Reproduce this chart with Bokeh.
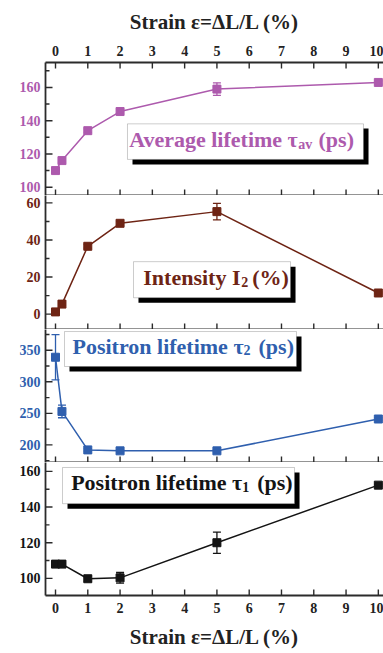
import math

from bokeh.models import (Plot, LinearAxis, Range1d, SingleIntervalTicker, FixedTicker,
                          Whisker, TeeHead, ColumnDataSource, BoxAnnotation, Label,
                          Line, Scatter, Segment)
from bokeh.layouts import column
from bokeh.embed import file_html
from bokeh.resources import INLINE

# ---- data -------------------------------------------------------------
strain = [0, 0.2, 1, 2, 5, 10]              # strain (%)
x_ticks = list(range(11))

tau_av = [110, 116, 134, 145.5, 159, 163]   # average lifetime (ps)
tau_av_err = [1, 1, 1, 1, 3.8, 1]

intensity_2 = [1.2, 5.4, 36.6, 49, 55.3, 11.4]  # intensity I2 (%)
intensity_2_err = [0.5, 0.5, 1, 1, 4.5, 0.5]

tau_2 = [339, 253, 192, 190.5, 190.5, 241]  # positron lifetime tau2 (ps)
tau_2_err = [36, 10, 2, 2, 2, 2]

tau_1 = [108, 108, 99.8, 100.3, 120, 152.3]  # positron lifetime tau1 (ps)
tau_1_err = [0.5, 0.5, 1.5, 3, 6, 0.5]

# ---- style ------------------------------------------------------------
FONT = "Liberation Serif"
AXIS_COLOR = "#2b2b2b"
PURPLE = "#ad5aad"
BROWN = "#6e2414"
BLUE = "#2f5fae"
BLACK = "#141414"
X_RANGE = (-0.31, 10.16)
FRAME_W = 338
AXIS_TITLE = "Strain \u03b5=\u0394L/L (%)"


def style_x_axis(axis, show_labels):
    axis.ticker = FixedTicker(ticks=x_ticks, minor_ticks=[])
    axis.axis_line_color = AXIS_COLOR
    axis.axis_line_width = 1.8
    axis.major_tick_in = 0
    axis.major_tick_out = 0
    axis.minor_tick_in = 0
    axis.minor_tick_out = 0
    axis.major_label_text_font = FONT
    axis.major_label_text_font_style = "bold"
    if show_labels:
        axis.major_label_text_color = "#222222"
        axis.major_label_text_font_size = "14px"
        axis.major_label_standoff = 7
        axis.axis_label = AXIS_TITLE
        axis.axis_label_text_font = FONT
        axis.axis_label_text_font_style = "bold"
        axis.axis_label_text_font_size = "21px"
        axis.axis_label_text_color = "#222222"
        axis.axis_label_standoff = 9
    else:
        # boundary between stacked panels: no numbers
        axis.major_label_text_color = None
        axis.major_label_text_font_size = "1px"
        axis.major_label_standoff = 0


def make_panel(height, y_range, interval, color, border_top=0, border_bottom=0):
    p = Plot(width=383, height=height,
             x_range=Range1d(*X_RANGE), y_range=Range1d(*y_range),
             output_backend="svg", toolbar_location=None,
             min_border_left=45, min_border_right=0,
             min_border_top=border_top, min_border_bottom=border_bottom,
             outline_line_color=None, background_fill_color="white",
             border_fill_color="white")
    yaxis = LinearAxis(ticker=SingleIntervalTicker(interval=interval, num_minor_ticks=2))
    yaxis.axis_line_color = AXIS_COLOR
    yaxis.axis_line_width = 1.8
    yaxis.major_tick_in = 0
    yaxis.major_tick_out = 0
    yaxis.minor_tick_in = 0
    yaxis.minor_tick_out = 0
    yaxis.major_label_text_font = FONT
    yaxis.major_label_text_font_style = "bold"
    yaxis.major_label_text_font_size = "14px"
    yaxis.major_label_text_color = color
    yaxis.major_label_standoff = 5
    p.add_layout(yaxis, "left")
    return p


def add_inner_ticks(p, y_range, interval, frame_h, top=False):
    """Short inward tick marks along the left edge and the bottom (and top) edge."""
    y0, y1 = y_range
    x_per_px = (X_RANGE[1] - X_RANGE[0]) / FRAME_W
    y_per_px = (y1 - y0) / frame_h
    seg = dict(x0=[], y0=[], x1=[], y1=[])
    for t in x_ticks:
        seg["x0"].append(t)
        seg["x1"].append(t)
        seg["y0"].append(y0)
        seg["y1"].append(y0 + 6 * y_per_px)
        if top:
            seg["x0"].append(t)
            seg["x1"].append(t)
            seg["y0"].append(y1)
            seg["y1"].append(y1 - 6 * y_per_px)
    half = interval / 2.0
    k = math.ceil(y0 / half)
    while k * half <= y1:
        v = k * half
        length = 7 if k % 2 == 0 else 4
        seg["x0"].append(X_RANGE[0])
        seg["x1"].append(X_RANGE[0] + length * x_per_px)
        seg["y0"].append(v)
        seg["y1"].append(v)
        k += 1
    p.add_glyph(ColumnDataSource(seg),
                Segment(x0="x0", y0="y0", x1="x1", y1="y1",
                        line_color=AXIS_COLOR, line_width=1.4))


def draw_series(p, values, errors, color):
    src = ColumnDataSource(dict(
        x=strain, y=values,
        upper=[v + e for v, e in zip(values, errors)],
        lower=[v - e for v, e in zip(values, errors)],
    ))
    p.add_glyph(src, Line(x="x", y="y", line_color=color, line_width=1.5))
    p.add_layout(Whisker(source=src, base="x", upper="upper", lower="lower",
                         line_color=color, line_width=1.3,
                         upper_head=TeeHead(size=8, line_color=color, line_width=1.3),
                         lower_head=TeeHead(size=8, line_color=color, line_width=1.3)))
    p.add_glyph(src, Scatter(x="x", y="y", marker="square", size=8,
                             fill_color=color, line_color=color))


def draw_caption(p, box, shadow, main, main_end, sub, sub_x, tail, tail_x,
                 base_y, sub_y, color):
    l, r, b, t = shadow
    p.add_layout(BoxAnnotation(left=l, right=r, bottom=b, top=t,
                               fill_color="black", fill_alpha=1, line_color=None))
    l, r, b, t = box
    p.add_layout(BoxAnnotation(left=l, right=r, bottom=b, top=t,
                               fill_color="white", fill_alpha=1,
                               line_color="#555555", line_width=1))
    common = dict(text_font=FONT, text_font_style="bold", text_color=color,
                  text_baseline="alphabetic")
    p.add_layout(Label(x=main_end, y=base_y, text=main, text_align="right",
                       text_font_size="22px", **common))
    p.add_layout(Label(x=sub_x, y=sub_y, text=sub, text_align="left",
                       text_font_size="14px", **common))
    p.add_layout(Label(x=tail_x, y=base_y, text=tail, text_align="left",
                       text_font_size="22px", **common))


# ---- panel 1: average lifetime -----------------------------------------
Y1 = (95, 175)
p1 = make_panel(195, Y1, 20, PURPLE, border_top=62)
top_axis = LinearAxis()
style_x_axis(top_axis, True)
p1.add_layout(top_axis, "above")
bottom1 = LinearAxis()
style_x_axis(bottom1, False)
p1.add_layout(bottom1, "below")
add_inner_ticks(p1, Y1, 20, 133, top=True)
draw_series(p1, tau_av, tau_av_err, PURPLE)
draw_caption(p1, (2.23, 9.54, 116.7, 138.1), (2.385, 9.696, 113.6, 135.3),
             "Average lifetime \u03c4", 7.503, "av", 7.518, "(ps)", 8.147,
             128.5, 125.7, PURPLE)

# ---- panel 2: intensity I2 ---------------------------------------------
Y2 = (-8.3, 64)
p2 = make_panel(134, Y2, 20, BROWN)
bottom2 = LinearAxis()
style_x_axis(bottom2, False)
p2.add_layout(bottom2, "below")
add_inner_ticks(p2, Y2, 20, 134)
draw_series(p2, intensity_2, intensity_2_err, BROWN)
draw_caption(p2, (2.416, 7.28, 8.84, 28.3), (2.57, 7.435, 6.1, 25.6),
             "Intensity I", 5.73, "2", 5.753, "(%)", 6.093,
             19.6, 17.5, BROWN)

# ---- panel 3: positron lifetime tau2 ------------------------------------
Y3 = (172, 383)
p3 = make_panel(133, Y3, 50, BLUE)
bottom3 = LinearAxis()
style_x_axis(bottom3, False)
p3.add_layout(bottom3, "below")
add_inner_ticks(p3, Y3, 50, 133)
draw_series(p3, tau_2, tau_2_err, BLUE)
draw_caption(p3, (0.279, 7.465, 324.3, 379.8), (0.433, 7.62, 316.4, 371.9),
             "Positron lifetime \u03c4", 5.824, "2", 5.824, "(ps)", 6.289,
             356.7, 350.0, BLUE)

# ---- panel 4: positron lifetime tau1 ------------------------------------
Y4 = (90.4, 165)
p4 = make_panel(191, Y4, 20, BLACK, border_bottom=58)
bottom4 = LinearAxis()
style_x_axis(bottom4, True)
p4.add_layout(bottom4, "below")
add_inner_ticks(p4, Y4, 20, 133)
draw_series(p4, tau_1, tau_1_err, BLACK)
draw_caption(p4, (0.217, 7.404, 141.9, 162.2), (0.372, 7.559, 139.1, 159.4),
             "Positron lifetime \u03c4", 5.783, "1", 5.783, "(ps)", 6.248,
             153.6, 151.3, BLACK)

layout = column(p1, p2, p3, p4, spacing=0)
open("out.html", "w").write(file_html(layout, INLINE))
